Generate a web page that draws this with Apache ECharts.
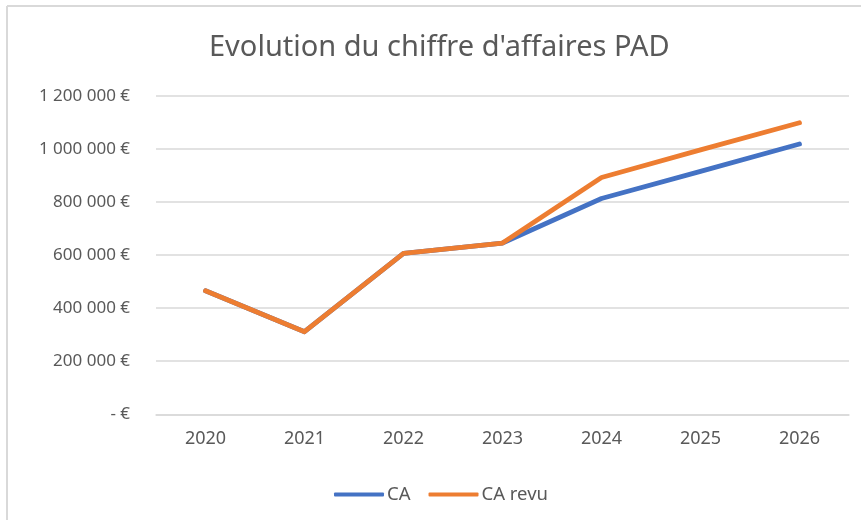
<!DOCTYPE html>
<html>
<head>
<meta charset="utf-8">
<script src="https://cdn.jsdelivr.net/npm/echarts@6/dist/echarts.min.js"></script>
<style>
html,body{margin:0;padding:0;background:#fff;}
#chart{width:861px;height:520px;}
</style>
</head>
<body>
<div id="chart"></div>
<script>
var titleText = "Evolution du chiffre d'affaires PAD";
var categories = ["2020", "2021", "2022", "2023", "2024", "2025", "2026"];
var seriesNames = ["CA", "CA revu"];
var caValues = [465000, 311000, 606000, 645000, 813000, 915000, 1018000];
var caRevuValues = [465000, 311000, 606000, 645000, 892000, 996000, 1098000];
var yMin = 0, yMax = 1200000, yStep = 200000;

function fmtEuro(v) {
  if (v === 0) return "- €";
  return String(v).replace(/\B(?=(\d{3})+(?!\d))/g, " ") + " €";
}

var chart = echarts.init(document.getElementById('chart'), null, {renderer: 'canvas'});
var font = "'Noto Sans', sans-serif";
chart.setOption({
  animation: false,
  backgroundColor: '#ffffff',
  title: {
    text: titleText,
    left: 204,
    top: 28,
    textStyle: {fontFamily: font, fontSize: 29, fontWeight: 'normal', color: '#595959'}
  },
  graphic: [
    {type: 'line', shape: {x1: 7, y1: 6, x2: 861, y2: 6}, style: {stroke: '#d9d9d9', lineWidth: 2}},
    {type: 'line', shape: {x1: 7, y1: 6, x2: 7, y2: 520}, style: {stroke: '#d9d9d9', lineWidth: 2}}
  ],
  legend: {
    top: 480,
    left: 329,
    itemWidth: 50,
    itemHeight: 4,
    itemGap: 18,
    icon: 'roundRect',
    textStyle: {fontFamily: font, fontSize: 18.5, color: '#595959', padding: [0,0,0,-2]},
    data: seriesNames
  },
  grid: {left: 156, right: 12, top: 95.7, bottom: 105.7, containLabel: false},
  xAxis: {
    type: 'category',
    data: categories,
    boundaryGap: true,
    axisLine: {show: true, lineStyle: {color: '#d9d9d9', width: 1.5}},
    axisTick: {show: false},
    axisLabel: {fontFamily: font, fontSize: 18, color: '#595959', margin: 16}
  },
  yAxis: {
    type: 'value',
    min: yMin, max: yMax, interval: yStep,
    axisLine: {show: false},
    axisTick: {show: false},
    splitLine: {lineStyle: {color: '#d9d9d9', width: 1.5}},
    axisLabel: {fontFamily: font, fontSize: 17, color: '#595959', margin: 26, formatter: fmtEuro}
  },
  series: [
    {name: seriesNames[0], type: 'line', data: caValues, symbol: 'none', z: 2,
     itemStyle: {color: '#4472C4'},
     lineStyle: {color: '#4472C4', width: 4.8, cap: 'round', join: 'round'}},
    {name: seriesNames[1], type: 'line', data: caRevuValues, symbol: 'none', z: 3,
     itemStyle: {color: '#ED7D31'},
     lineStyle: {color: '#ED7D31', width: 4.8, cap: 'round', join: 'round'}}
  ]
});
</script>
</body>
</html>
